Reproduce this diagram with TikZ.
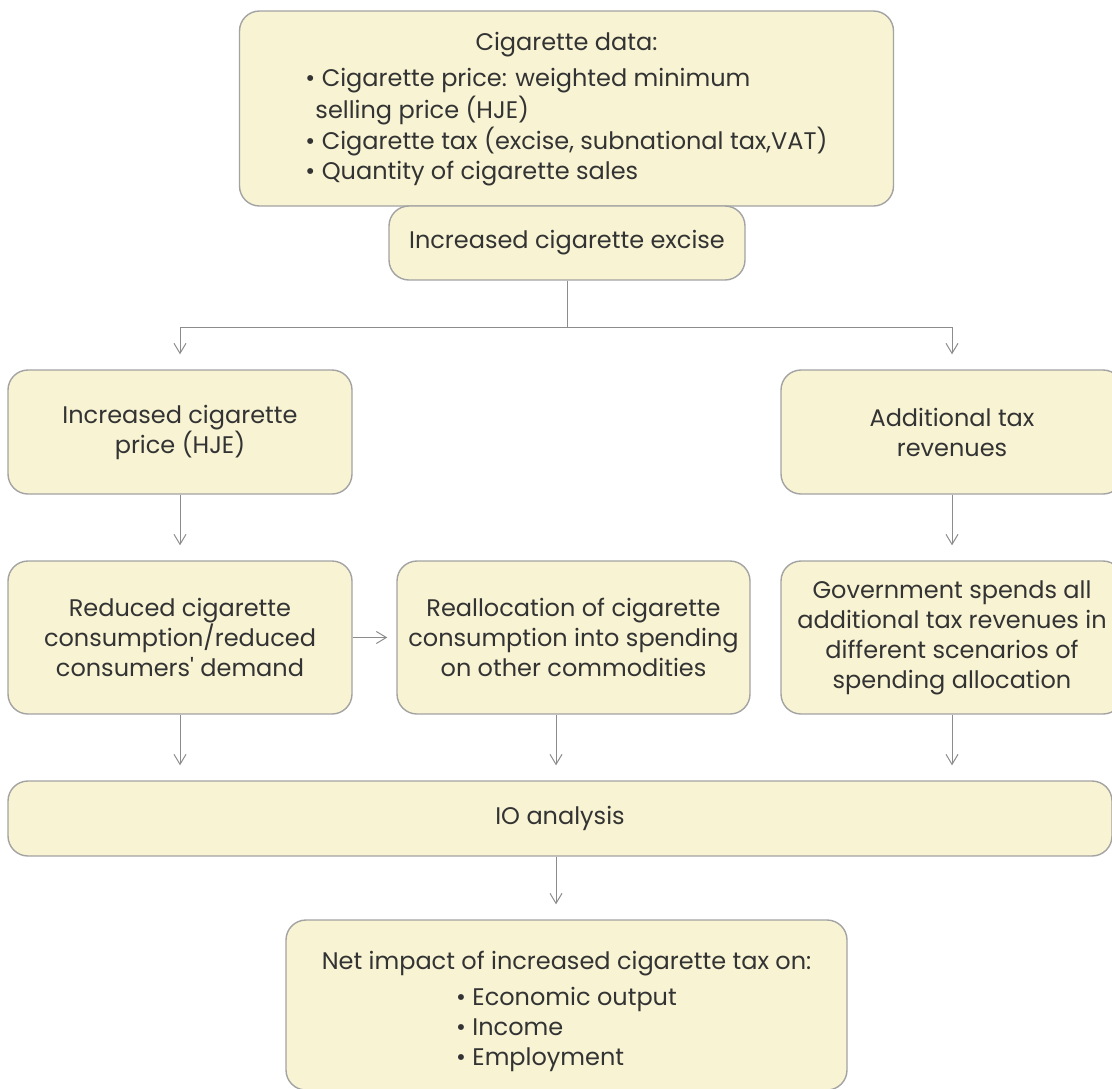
\documentclass[tikz,border=0pt]{standalone}
\usepackage{fontspec}
\setmainfont{Poppins}
\usetikzlibrary{arrows.meta,positioning}

\definecolor{boxfill}{HTML}{F7F3D3}
\definecolor{boxline}{HTML}{A3A3A3}
\definecolor{arrline}{HTML}{8C8C8C}
\definecolor{txt}{HTML}{333333}

\begin{document}
\begin{tikzpicture}[x=0.5pt,y=-0.5pt,
    box/.style={draw=boxline,fill=boxfill,line width=0.7pt,rounded corners=10pt,inner sep=0pt,align=center,text=txt,font=\fontsize{12}{15}\selectfont},
    boxtext/.style={align=center,text=txt,inner sep=0pt,font=\fontsize{12}{15}\selectfont},
    arr/.style={draw=arrline,line width=0.5pt,-{Straight Barb[length=5pt,width=6pt]},shorten >=7.5pt},
    plain line/.style={draw=arrline,line width=0.5pt}]
    \useasboundingbox (0,0) rectangle (1112,1088);
    \clip (0,0) rectangle (1112,1088);

    % top
    \node[box,minimum width=327pt,minimum height=97.5pt] (data) at (566.5,108.5) {};
    \node[boxtext] (datatext) at ([yshift=-1pt]data.center) {Cigarette data:\\[3.5pt]
        \begin{tabular}{@{}l@{}}
        • Cigarette price: weighted minimum\\
        \hspace{5pt}selling price (HJE)\\
        • Cigarette tax (excise, subnational tax,VAT)\\
        • Quantity of cigarette sales
        \end{tabular}};
    \node[box,minimum width=178pt,minimum height=37pt] (excise) at (567,243) {Increased cigarette excise};
    \coordinate (split) at (567,327);

    % second row
    \node[box,minimum width=172pt,minimum height=62pt] (price) at (180,432) {Increased cigarette\\price (HJE)};
    \node[box,minimum width=171pt,minimum height=62pt] (revenue) at (952,432) {Additional tax\\revenues};

    % third row
    \node[box,minimum width=172pt,minimum height=76.5pt] (reduce) at (180,637.5) {Reduced cigarette\\consumption/reduced\\consumers\textquotesingle\ demand};
    \node[box,minimum width=176.5pt,minimum height=76.5pt] (realloc) at (573.5,637.5) {Reallocation of cigarette\\consumption into spending\\on other commodities};
    \node[box,minimum width=171pt,minimum height=76.5pt] (govt) at (952,637.5) {Government spends all\\additional tax revenues in\\different scenarios of\\spending allocation};

    % bottom
    \node[box,minimum width=552pt,minimum height=37.5pt] (io) at (560,818.5) {IO analysis};
    \node[box,minimum width=280.5pt,minimum height=85pt] (net) at (566.5,1005) {};
    \node[boxtext] (nettext) at ([yshift=-4pt]net.center) {Net impact of increased cigarette tax on:\\[3.5pt]
        \begin{tabular}{@{}l@{}}
        • Economic output\\
        • Income\\
        • Employment
        \end{tabular}};

    \path[plain line] (excise.south) -- (split);
    \path[arr] (split) -| (price.north);
    \path[arr] (split) -| (revenue.north);
    \path[arr] (price.south) -- (reduce.north);
    \path[arr] (revenue.south) -- (govt.north);
    \path[arr,shorten >=4.5pt] (reduce.east) -- (realloc.west);
    \path[arr] (reduce.south) -- (reduce.south |- io.north);
    \path[arr] ([xshift=-8.75pt]realloc.south) -- ([xshift=-8.75pt]realloc.south |- io.north);
    \path[arr] (govt.south) -- (govt.south |- io.north);
    \path[arr] ([xshift=-2pt]io.south) -- ([xshift=-2pt]io.south |- net.north);
\end{tikzpicture}
\end{document}
